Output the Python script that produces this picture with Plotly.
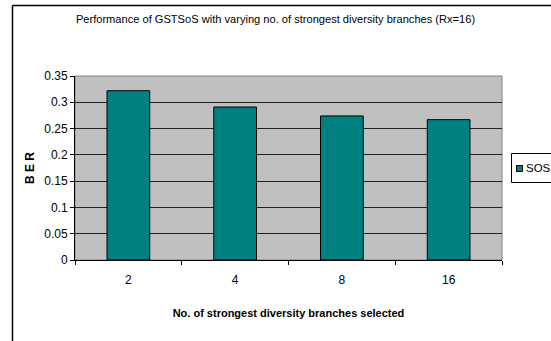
import plotly.graph_objects as go

categories = ["2", "4", "8", "16"]
ber_sos = [0.322, 0.291, 0.274, 0.267]
series_name = "SOS"
series_color = "#008080"
y_ticks = [0, 0.05, 0.1, 0.15, 0.2, 0.25, 0.3, 0.35]
y_tick_labels = ["0", "0.05", "0.1", "0.15", "0.2", "0.25", "0.3", "0.35"]

W, H = 551, 341
L, R, T, B = 75, 49, 76, 81
pw, ph = W - L - R, H - T - B

fig = go.Figure()
fig.add_trace(go.Bar(
    x=categories, y=ber_sos, name=series_name,
    marker=dict(color=series_color, line=dict(color="#000000", width=1)),
    width=0.4, showlegend=False,
))

font = "Liberation Sans, Arial, sans-serif"

def px_x(x):
    return (x - L) / pw

def px_y(y):
    return (H - B - y) / ph

shapes = [
    # plot-area frame (grey)
    dict(type="rect", xref="paper", yref="paper", x0=0, x1=1, y0=0, y1=1,
         line=dict(color="#808080", width=1), layer="below"),
    # outer chart border
    dict(type="line", xref="paper", yref="paper",
         x0=px_x(12.5), x1=px_x(12.5), y0=px_y(345), y1=px_y(5.5),
         line=dict(color="#000000", width=1.5)),
    dict(type="line", xref="paper", yref="paper",
         x0=px_x(12.5), x1=px_x(560), y0=px_y(5.5), y1=px_y(5.5),
         line=dict(color="#000000", width=1.5)),
    # legend box
    dict(type="rect", xref="paper", yref="paper",
         x0=px_x(511.5), x1=px_x(560), y0=px_y(182.5), y1=px_y(153.5),
         line=dict(color="#000000", width=1), fillcolor="#ffffff"),
    # legend key
    dict(type="rect", xref="paper", yref="paper",
         x0=px_x(516.5), x1=px_x(522.5), y0=px_y(171.5), y1=px_y(165.5),
         line=dict(color="#000000", width=1), fillcolor=series_color),
]

annotations = [
    dict(text=series_name, xref="paper", yref="paper",
         x=px_x(523.5), y=px_y(167.5), xanchor="left", yanchor="middle",
         showarrow=False, font=dict(family=font, size=11.5, color="#000000")),
]

fig.update_layout(
    width=W, height=H,
    margin=dict(l=L, r=R, t=T, b=B, pad=0, autoexpand=False),
    paper_bgcolor="#ffffff",
    plot_bgcolor="#C0C0C0",
    font=dict(family=font, size=11, color="#000000"),
    title=dict(
        text="Performance of GSTSoS with varying no. of strongest diversity branches (Rx=16)",
        x=0.5, xanchor="center", xref="container",
        y=1 - 19 / H, yanchor="middle", yref="container",
        font=dict(family=font, size=11.1, color="#000000"),
    ),
    showlegend=False,
    xaxis=dict(
        type="category",
        showline=True, linecolor="#000000", linewidth=1,
        ticks="outside", tickson="boundaries", ticklen=4, tickcolor="#000000",
        tickfont=dict(family=font, size=12),
        ticklabelstandoff=9,
        showgrid=False,
        title=dict(text="<b>No. of strongest diversity branches selected</b>",
                   font=dict(family=font, size=11), standoff=22),
    ),
    yaxis=dict(
        range=[0, 0.35],
        tickvals=y_ticks, ticktext=y_tick_labels,
        showline=True, linecolor="#000000", linewidth=1,
        ticks="outside", ticklen=4, tickcolor="#000000",
        tickfont=dict(family=font, size=12),
        showgrid=True, gridcolor="#202020", gridwidth=1,
        zeroline=False,
        title=dict(text="<b>B E R</b>", font=dict(family=font, size=12), standoff=7),
    ),
    shapes=shapes,
    annotations=annotations,
)

fig.write_html("out.html")
